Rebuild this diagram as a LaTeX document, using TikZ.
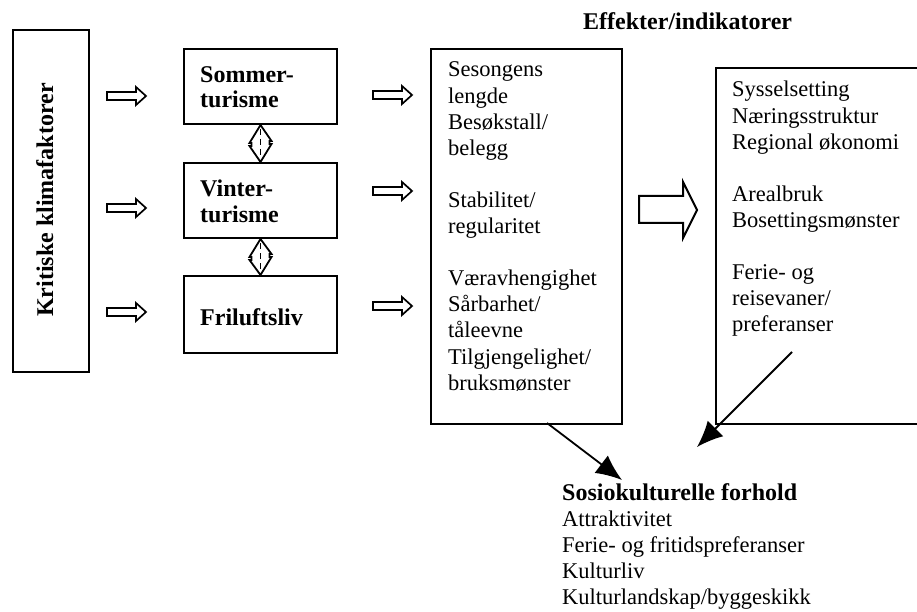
\documentclass[tikz,border=0pt]{standalone}
\usepackage{fontspec}
\setmainfont{Liberation Serif}
\usetikzlibrary{arrows.meta,calc}

% left-aligned block of lines whose baseline is the first line
\newcommand\linestack[1]{\begin{tabular}[t]{@{}l@{}}#1\end{tabular}}

\begin{document}
\begin{tikzpicture}[x=1pt,y=-1pt,
  box/.style={draw, line width=2pt, inner sep=0pt, anchor=north west},
  txt/.style={anchor=base west, inner sep=0pt},
  nfont/.style={font=\fontsize{22.5}{26.1}\selectfont},
  sfont/.style={font=\fontsize{22.5}{26.2}\selectfont},
  bfont/.style={font=\fontsize{24}{25}\selectfont\bfseries},
  conn/.style={line width=1.8pt},
  bigarrow/.style={line width=2pt, line join=miter},
  arrowtip/.style={-{Latex[length=26pt,width=22pt]}},
  blockarrow/.pic={\draw[line width=1.7pt, line join=miter]
      (0,-4) -- (29,-4) -- (29,-9) -- (39,0) -- (29,9) -- (29,4) -- (0,4) -- cycle;}
]
\useasboundingbox (0,0) rectangle (917,612);

% --- boxes ---
\node[box, minimum width=76pt,  minimum height=342pt] (klima)  at (12,29)  {};
\node[box, minimum width=153pt, minimum height=75pt]  (sommer) at (183,48) {};
\node[box, minimum width=153pt, minimum height=75pt]  (vinter) at (183,162) {};
\node[box, minimum width=153pt, minimum height=77pt]  (friluft) at (183,275) {};
\node[box, minimum width=191pt, minimum height=375pt] (effekt) at (430,48) {};
\node[box, minimum width=205pt, minimum height=356pt] (samfunn) at (715,67) {};

% --- texts ---
\node[txt, bfont] (title) at (583,30) {Effekter/indikatorer};
\node[txt, bfont, rotate=90] (klimatxt) at (53,317) {Kritiske klimafaktorer};
\node[txt, bfont] (sommertxt) at (200,83) {\linestack{Sommer-\\turisme}};
\node[txt, bfont] (vintertxt) at (200,197) {\linestack{Vinter-\\turisme}};
\node[txt, bfont] (frilufttxt) at (200,325) {Friluftsliv};

\node[txt, nfont] (effekttxt) at (448,77) {\linestack{%
  Sesongens\\lengde\\Besøkstall/\\belegg\\ \\
  Stabilitet/\\regularitet\\ \\
  Væravhengighet\\Sårbarhet/\\tåleevne\\Tilgjengelighet/\\bruksmønster}};

\node[txt, nfont] (samfunntxt) at (732,97) {\linestack{%
  Sysselsetting\\Næringsstruktur\\Regional økonomi\\ \\
  Arealbruk\\Bosettingsmønster\\ \\
  Ferie- og\\reisevaner/\\preferanser}};

\node[txt, sfont] (sosio) at (562,500) {\linestack{%
  {\fontsize{24}{26.2}\selectfont\bfseries Sosiokulturelle forhold}\\
  Attraktivitet\\Ferie- og fritidspreferanser\\Kulturliv\\Kulturlandskap/byggeskikk}};

% --- block arrows between the columns ---
\pic at (107,96)  {blockarrow};
\pic at (107,208) {blockarrow};
\pic at (107,312) {blockarrow};
\pic at (373,95)  {blockarrow};
\pic at (373,191) {blockarrow};
\pic at (373,306) {blockarrow};

% large block arrow towards the society box
\draw[bigarrow] (639,196) -- (683,196) -- (683,182) -- (697,210)
  -- (683,238) -- (683,223) -- (639,223) -- cycle;

% --- two-headed links between the activity boxes ---
\newcommand\twoway[2]{%
  \draw[conn, line join=miter] (#1.south) -- ++(-11,18) -- ++(2,0) -- ++(0,3) -- ++(-2,0)
    -- (#2.north) -- ++(11,-18) -- ++(-2,0) -- ++(0,-3) -- ++(2,0) -- cycle;
  \draw[line width=1.4pt, dash pattern=on 6pt off 4pt]
    ($(#1.south)+(0,4)$) -- ($(#2.north)+(0,-4)$);}
\twoway{sommer}{vinter}
\twoway{vinter}{friluft}

% --- line arrows to the socio-cultural conditions ---
\coordinate (fromeffekt) at (547,423);
\coordinate (toeffekt) at (622,480);
\coordinate (fromsamfunn) at (792,352);
\coordinate (tosamfunn) at (697,447);
\draw[conn, arrowtip] (fromeffekt) -- (toeffekt);
\draw[conn, arrowtip] (fromsamfunn) -- (tosamfunn);
\end{tikzpicture}
\end{document}
